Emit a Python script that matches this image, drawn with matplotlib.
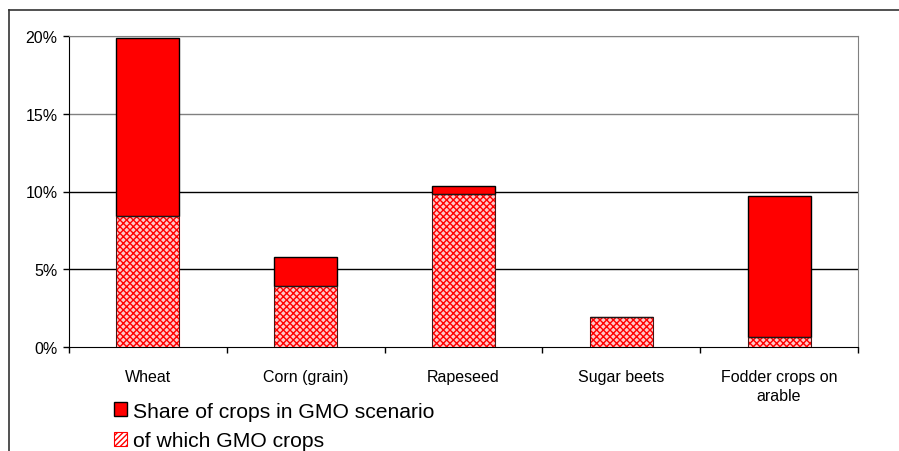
import matplotlib.pyplot as plt
from matplotlib.patches import Patch
import numpy as np

# Data (percent of arable land)
crops = ['Wheat', 'Corn (grain)', 'Rapeseed', 'Sugar beets', 'Fodder crops on\narable']
share_total = [19.9, 5.8, 10.35, 1.95, 9.7]   # share of crops in GMO scenario
share_gmo = [8.4, 3.9, 9.85, 1.95, 0.65]      # of which GMO crops
y_ticks = [0, 5, 10, 15, 20]
y_labels = ['0%', '5%', '10%', '15%', '20%']

plt.rcParams['font.family'] = ['Liberation Sans', 'DejaVu Sans']
plt.rcParams['hatch.color'] = '#ff0000'
plt.rcParams['hatch.linewidth'] = 1.0

fig = plt.figure(figsize=(8.99, 4.52), dpi=100)
ax = fig.add_axes([69 / 899, 1 - 348 / 452, 789 / 899, 311 / 452])

x = np.arange(len(crops))
rest = [t - g for t, g in zip(share_total, share_gmo)]
w = 0.4

# red part on top of the hatched GMO part
ax.bar(x, share_gmo, width=w, color='#ffc8c8', hatch='xxxxx',
       edgecolor='#ff0000', linewidth=0.8, zorder=3)
ax.bar(x, share_gmo, width=w, color='none', edgecolor='#202020',
       linewidth=0.6, zorder=4)
ax.bar(x, rest, bottom=share_gmo, width=w, color='#ff0000',
       edgecolor='black', linewidth=1.0, zorder=3)

ax.set_xlim(-0.5, len(crops) - 0.5)
ax.set_ylim(0, 20)
ax.set_yticks(y_ticks)
ax.set_yticklabels(y_labels, fontsize=11.5)
ax.set_xticks(x)
ax.set_xticklabels(crops, fontsize=11.5, linespacing=1.35)
ax.tick_params(axis='x', length=0, pad=16)
ax.tick_params(axis='y', length=4.3, width=1, pad=4)
# tick marks between categories
ax.set_xticks(np.arange(-0.5, len(crops)), minor=True)
ax.tick_params(axis='x', which='minor', length=4.3, width=1)

for yv in y_ticks[1:]:
    c = '#000000' if yv <= 10 else '#808080'
    ax.axhline(yv, color=c, linewidth=1.0, zorder=1)

for s in ['top', 'right']:
    ax.spines[s].set_color('#808080')
for s in ['left', 'bottom']:
    ax.spines[s].set_color('black')

# outer chart frame (left and top edges visible)
fig.add_artist(plt.Line2D([9 / 899, 9 / 899], [0, 1 - 11 / 452],
                          transform=fig.transFigure, color='#333333', lw=1.2))
fig.add_artist(plt.Line2D([9 / 899, 1], [1 - 11 / 452, 1 - 11 / 452],
                          transform=fig.transFigure, color='#333333', lw=1.2))

handles = [Patch(facecolor='#ff0000', edgecolor='black', linewidth=1.0),
           Patch(facecolor='white', hatch='//////', edgecolor='#ff0000', linewidth=0.8)]
fig.legend(handles, ['Share of crops in GMO scenario', 'of which GMO crops'],
           loc='upper left', bbox_to_anchor=(103 / 899, 1 - 392 / 452),
           frameon=False, fontsize=15.2, handlelength=0.62, handleheight=0.62,
           handletextpad=0.3, labelspacing=0.5, borderpad=0)

fig.savefig('out.png', dpi=100)
